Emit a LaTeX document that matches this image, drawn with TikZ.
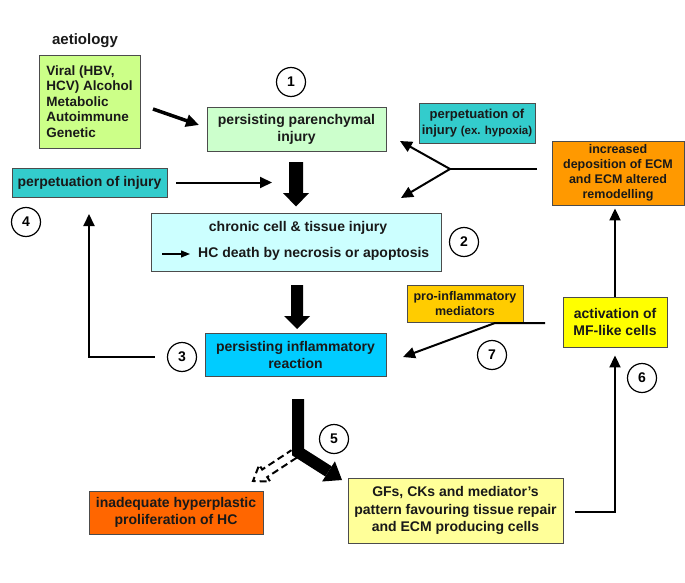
\documentclass[tikz,border=0pt]{standalone}
\usepackage{fontspec}
\setmainfont{Liberation Sans}
\usetikzlibrary{arrows.meta}
\definecolor{aetcol}{RGB}{204,255,136}
\definecolor{parcol}{RGB}{204,255,204}
\definecolor{tealcol}{RGB}{51,204,204}
\definecolor{ecmcol}{RGB}{255,153,0}
\definecolor{chrcol}{RGB}{204,255,255}
\definecolor{procol}{RGB}{255,204,0}
\definecolor{actcol}{RGB}{255,255,0}
\definecolor{infcol}{RGB}{0,204,255}
\definecolor{inadcol}{RGB}{255,102,0}
\definecolor{gfscol}{RGB}{255,255,153}
\begin{document}
\begin{tikzpicture}[x=1pt,y=-1pt,
  box/.style={draw=black!70, line width=0.9pt, inner sep=0pt, align=center,
    font=\fontsize{14}{17}\selectfont\bfseries, text=black!90},
  txt/.style={inner sep=0pt, font=\fontsize{14}{17}\selectfont\bfseries, text=black!90},
  num/.style={circle, draw=black, line width=1.2pt, minimum size=29pt, inner sep=0pt,
    font=\fontsize{14}{14}\selectfont\bfseries},
  conn/.style={line width=2pt, -{Triangle[length=12pt,width=11pt]}},
  plainline/.style={line width=2pt},
  fatarrow/.style={fill=black},
]
\useasboundingbox (0,0) rectangle (685,583);

% boxes
\node[txt, font=\fontsize{15}{18}\selectfont\bfseries] (aetlbl) at (85,41) {aetiology};
\node[box, fill=aetcol, minimum width=101pt, minimum height=93pt, align=left,
  font=\fontsize{13.5}{15.5}\selectfont\bfseries] (aet) at (89.5,101.5)
  {Viral (HBV,\\HCV) Alcohol\\Metabolic\\Autoimmune\\Genetic};
\node[box, fill=parcol, minimum width=179pt, minimum height=44pt] (par) at (296.5,129)
  {persisting parenchymal\\injury};
\node[box, fill=tealcol, minimum width=155pt, minimum height=29pt] (perpL) at (89.5,182.5)
  {perpetuation of injury};
\node[box, fill=tealcol, minimum width=116pt, minimum height=40pt,
  font=\fontsize{13}{16}\selectfont\bfseries] (hyp) at (477,123)
  {perpetuation of\\injury {\fontsize{11.5}{16}\selectfont(ex. hypoxia)}};
\node[box, fill=ecmcol, minimum width=132pt, minimum height=64pt,
  font=\fontsize{12.5}{15}\selectfont\bfseries] (ecm) at (618,173)
  {increased\\deposition of ECM\\and ECM altered\\remodelling};
\node[box, fill=chrcol, minimum width=290pt, minimum height=58pt] (chr) at (296,242) {};
\node[txt] (chr1) at (298,228) {chronic cell \& tissue injury};
\node[txt, anchor=west] (chr2) at (198,254) {HC death by necrosis or apoptosis};
\node[box, fill=procol, minimum width=116pt, minimum height=37pt,
  font=\fontsize{12.5}{15}\selectfont\bfseries] (pro) at (465,303.5)
  {pro-inflammatory\\mediators};
\node[box, fill=actcol, minimum width=104pt, minimum height=50pt] (act) at (615,322)
  {activation of\\MF-like cells};
\node[box, fill=infcol, minimum width=181pt, minimum height=43pt] (inf) at (295.5,354.5)
  {persisting inflammatory\\reaction};
\node[box, fill=inadcol, minimum width=174pt, minimum height=43pt] (inad) at (176,512.5)
  {inadequate hyperplastic\\proliferation of HC};
\node[box, fill=gfscol, minimum width=215pt, minimum height=65pt,
  font=\fontsize{14}{17.5}\selectfont\bfseries] (gfs) at (455.5,510.5)
  {GFs, CKs and mediator’s\\pattern favouring tissue repair\\and ECM producing cells};

% numbered circles
\node[num] (c1) at (291,82) {1};
\node[num] (c2) at (464,242) {2};
\node[num] (c3) at (182,357) {3};
\node[num] (c4) at (26,222) {4};
\node[num] (c5) at (334,439) {5};
\node[num] (c6) at (642,378) {6};
\node[num] (c7) at (492,355) {7};

% connectors
\coordinate (a1) at (153,109);
\coordinate (a2) at (199,125);
\draw[line width=3.5pt, -{Triangle[length=13pt,width=12pt]}] (a1) -- (a2);

\coordinate (p1) at (272,182.5);
\draw[conn, shorten <=9pt] (perpL.east) -- (p1);

\coordinate (f0) at (537,169);
\coordinate (f1) at (450,169);
\coordinate (f2) at (400,141);
\coordinate (f3) at (401,198);
\draw[plainline] (f0) -- (f1);
\draw[conn] (f1) -- (f2);
\draw[conn] (f1) -- (f3);

\draw[line width=1.2pt, -{Triangle[length=9pt,width=7pt]}, shorten >=8pt] (162,254) -- (chr2.west);

\coordinate (l1) at (89,357);
\coordinate (l2) at (89,214);
\draw[conn, shorten <=12pt] (c3.west) -- (l1) -- (l2);

\coordinate (m0) at (545,323);
\coordinate (m1) at (495,323);
\coordinate (m2) at (403,357);
\draw[conn] (m0) -- (m1) -- (m2);

\draw[conn, shorten >=3pt] (act.north) -- (act.north |- ecm.south);

\coordinate (g0) at (575,512);
\coordinate (g1) at (615,512);
\draw[conn, shorten >=8pt] (g0) -- (g1) -- (act.south);

% fat arrows
\fill[fatarrow] (289,162) -- (303,162) -- (303,193) -- (309,193) -- (296,206.5)
  -- (283,193) -- (289,193) -- cycle;
\fill[fatarrow] (291,285) -- (303,285) -- (303,316) -- (310,316) -- (297,329)
  -- (284,316) -- (291,316) -- cycle;

% L-shaped fat arrow
\draw[line width=12pt, line join=miter] (298,399) -- (298,452) -- (328.5,471.4);
\fill[fatarrow] (342,480) -- (322.1,481.5) -- (334.9,461.3) -- cycle;

% dashed open arrow
\draw[line width=2pt, dash pattern=on 7pt off 4pt, line join=miter]
  (296.5,457.8) -- (267.2,477.1) -- (270.2,481.6) -- (253,481)
  -- (259.2,464.9) -- (262.2,469.5) -- (291.5,450.2);
\end{tikzpicture}
\end{document}
